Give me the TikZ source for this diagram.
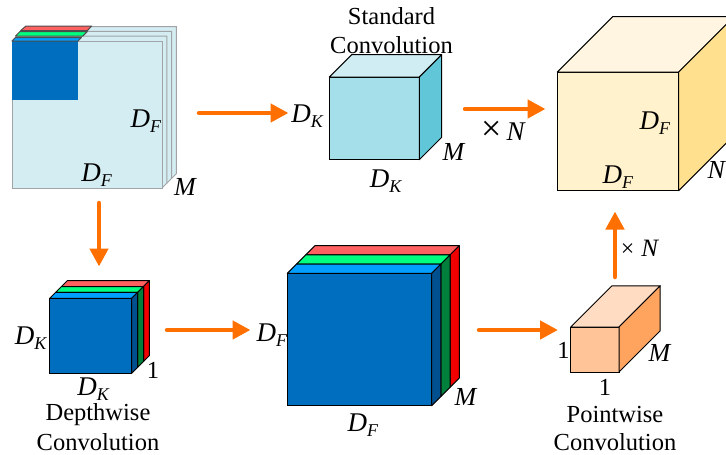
\documentclass[tikz,border=0pt]{standalone}
\usepackage{fontspec}
\setmainfont{Liberation Serif}
\usepackage{xcolor}
\usetikzlibrary{arrows.meta,positioning,calc}
\definecolor{sheetface}{HTML}{D4EDF2}
\definecolor{sheetedge}{HTML}{A0A4A6}
\definecolor{blueface}{HTML}{006EBE}
\definecolor{blueside}{HTML}{00508F}
\definecolor{bluetop}{HTML}{009FFF}
\definecolor{greenside}{HTML}{00803C}
\definecolor{greentop}{HTML}{00FF7F}
\definecolor{redside}{HTML}{F00000}
\definecolor{redtop}{HTML}{FF6060}
\definecolor{stdface}{HTML}{A5DFEA}
\definecolor{stdtop}{HTML}{D0EDF3}
\definecolor{stdside}{HTML}{62C6D9}
\definecolor{outface}{HTML}{FFF2CC}
\definecolor{outtop}{HTML}{FFF5E0}
\definecolor{outside}{HTML}{FFE08F}
\definecolor{ptface}{HTML}{FFC599}
\definecolor{pttop}{HTML}{FFDCC2}
\definecolor{ptside}{HTML}{FFA45F}
\definecolor{arroworange}{HTML}{FF7000}
\newcommand{\dimlab}[2]{{\fontsize{27}{27}\selectfont\textit{#1}}\raisebox{-0.2em}{\fontsize{18}{18}\selectfont\textit{#2}}}

\begin{document}
\begin{tikzpicture}[
  x=1pt, y=-1pt,
  font=\fontsize{24.5}{24.5}\selectfont,
  face/.style={draw, line width=1pt, outer sep=0pt, inner sep=0pt, anchor=north west},
  edge/.style={draw, line width=1pt, line join=round},
  lab/.style={inner sep=0pt},
  flow/.style={draw=arroworange, line width=4.5pt, line cap=round, -{Triangle[length=18pt,width=18pt]}},
]
\clip (0,0) rectangle (726,455);
% input stack: three sheets
\def\xI{12}
\def\yI{41}
\foreach \k/\o in {3/14.4,2/9.6,1/4.8}{
  \fill[sheetface] (\xI+\o,\yI-\o) rectangle (\xI+150+\o,\yI+147-\o);
  \draw[sheetedge, line width=1pt, fill=sheetface] (\xI+\o-4.8,\yI-\o+4.8) -- (\xI+\o,\yI-\o) -- (\xI+150+\o,\yI-\o)
    -- (\xI+150+\o,\yI+147-\o) -- (\xI+150+\o-4.8,\yI+147-\o+4.8);
}
\node[face, draw=sheetedge, fill=sheetface, minimum width=150pt, minimum height=147pt] (sheet) at (\xI,\yI) {};
\fill[blueface] (\xI,\yI) rectangle (78,100);
\draw[edge, draw=black!70, fill=bluetop] (sheet.north west) -- ++(3.4,-3.4) -- ++(66,0) -- ++(-3.4,3.4) -- cycle;
\draw[edge, draw=black!70, fill=greentop] (15.5,36) -- ++(4.5,-4.5) -- ++(67.3,0) -- ++(-4.5,4.5) -- cycle;
\draw[edge, draw=black!70, fill=redtop] (20.5,30.7) -- ++(5.5,-4.7) -- ++(65.7,0) -- ++(-4.5,4.7) -- cycle;
% solid cubes: name/x/y/w/h/depth/colours
\foreach \n/\x/\y/\w/\h/\d/\cf/\ct/\cs in {
  std/329.3/77/90/82.7/22.3/stdface/stdtop/stdside,
  out/557.3/72/121.4/118.7/55.3/outface/outtop/outside,
  point/570.7/327/48.3/45/41.2/ptface/pttop/ptside}{
  \node[face, fill=\cf, minimum width=\w pt, minimum height=\h pt] (\n) at (\x,\y) {};
  \draw[edge, fill=\ct] (\n.north west) -- ++(\d,-\d) -- ++(\w,0) -- (\n.north east) -- cycle;
  \draw[edge, fill=\cs] (\n.north east) -- ++(\d,-\d) -- ++(0,\h) -- (\n.south east) -- cycle;
}
% blue stacks, red layer first: name/x/y/w/h/step
\foreach \n/\x/\y/\w/\h/\d in {depth/49.7/298.3/82/75/5.9, big/287.3/273.3/144.4/132.4/9.2}{
  \foreach \k/\ct/\cs in {2/redtop/redside,1/greentop/greenside,0/bluetop/blueside}{
    \draw[edge, fill=\ct] (\x+\k*\d,\y-\k*\d) -- ++(\d,-\d) -- ++(\w,0) -- ++(-\d,\d) -- cycle;
    \draw[edge, fill=\cs] (\x+\w+\k*\d,\y-\k*\d) -- ++(\d,-\d) -- ++(0,\h) -- ++(-\d,\d) -- cycle;
  }
  \node[face, fill=blueface, minimum width=\w pt, minimum height=\h pt] (\n) at (\x,\y) {};
}
% arrows
\coordinate (a1s) at (199,113);
\coordinate (a1e) at (288.5,113);
\coordinate (a2s) at (99,203);
\coordinate (a2e) at (99,266.5);
\coordinate (a3s) at (167,330);
\coordinate (a3e) at (250.5,330);
\coordinate (a4s) at (479,330);
\coordinate (a4e) at (558,330);
\coordinate (a5s) at (615,277);
\coordinate (a5e) at (615,211.5);
\coordinate (a6s) at (465,109);
\coordinate (a6e) at (545.5,109);
\foreach \p in {a1,a2,a3,a4,a5,a6}{
  \draw[flow] (\p s) -- (\p e);
}
% labels
\node[lab] (inF1) at (146,121) {\dimlab{D}{F}};
\node[lab] (inF2) at (96.7,175) {\dimlab{D}{F}};
\node[lab] (inM) at (185.5,187) {\fontsize{26}{26}\selectfont\textit{M}};
\node[lab] (stdT1) at (391.5,16) {Standard};
\node[lab] (stdT2) at (391.5,45) {Convolution};
\node[lab] (stdK1) at (307.5,116) {\dimlab{D}{K}};
\node[lab] (stdK2) at (386,181.5) {\dimlab{D}{K}};
\node[lab] (stdM) at (454,151.5) {\fontsize{26}{26}\selectfont\textit{M}};
\node[lab] (times1) at (503.5,130.5) {{\fontsize{36}{36}\selectfont ×}\hspace{5pt}{\fontsize{27}{27}\selectfont\textit{N}}};
\node[lab] (outF1) at (655,123) {\dimlab{D}{F}};
\node[lab] (outF2) at (618,177) {\dimlab{D}{F}};
\node[lab] (outN) at (717,170) {\fontsize{26}{26}\selectfont\textit{N}};
\node[lab] (times2) at (640,248) {{\fontsize{24}{24}\selectfont ×}\hspace{7pt}{\fontsize{25}{25}\selectfont\textit{N}}};
\node[lab] (ptL) at (563.5,350) {1};
\node[lab] (ptM) at (660,353) {\fontsize{26}{26}\selectfont\textit{M}};
\node[lab] (ptB) at (605,387) {1};
\node[lab] (ptT1) at (615,415) {Pointwise};
\node[lab] (ptT2) at (615,442) {Convolution};
\node[lab] (depK1) at (31,338) {\dimlab{D}{K}};
\node[lab] (depL) at (153,370) {1};
\node[lab] (depK2) at (93.5,389.5) {\dimlab{D}{K}};
\node[lab] (depT1) at (98,415) {Depthwise};
\node[lab] (depT2) at (98,442) {Convolution};
\node[lab] (bigF1) at (272,335) {\dimlab{D}{F}};
\node[lab] (bigM) at (466,397) {\fontsize{26}{26}\selectfont\textit{M}};
\node[lab] (bigF2) at (363,425) {\dimlab{D}{F}};
\end{tikzpicture}
\end{document}
